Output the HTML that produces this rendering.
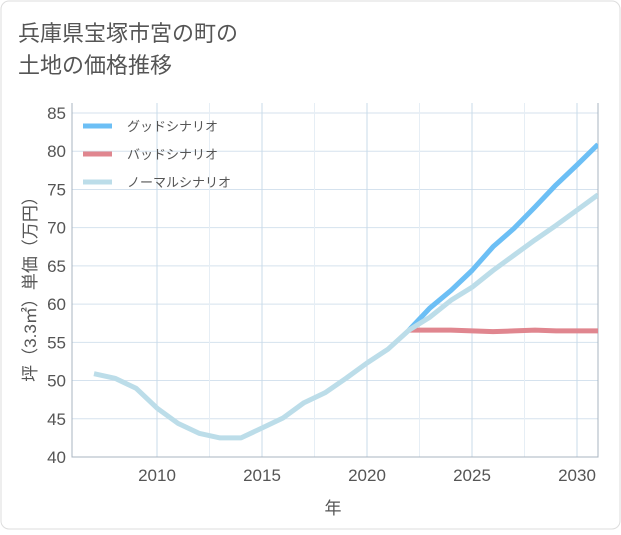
<!DOCTYPE html>
<html><head><meta charset="utf-8"><style>
body{margin:0;background:#fff;}
svg text{font-family:"Liberation Sans","Noto Sans CJK JP",sans-serif;}
</style></head><body>
<svg width="621" height="530" xmlns="http://www.w3.org/2000/svg">
<rect x="1" y="1" width="619" height="528" rx="8" fill="#fff" stroke="#ddd"/>
<text x="18" y="41" font-size="22" fill="#555">兵庫県宝塚市宮の町の</text>
<text x="18" y="73" font-size="22" fill="#555">土地の価格推移</text>
<g id="grid"></g>
<g id="axes"></g>
<g id="series"></g>
<text transform="translate(36,285) rotate(-90)" text-anchor="middle" font-size="17" fill="#555">坪（3.3㎡）単価（万円）</text>
<text x="333" y="514" text-anchor="middle" font-size="17" fill="#555">年</text>
<g>
<line x1="83" y1="126" x2="112" y2="126" stroke="#6cbff5" stroke-width="5"/>
<text x="127" y="131" font-size="13" fill="#555">グッドシナリオ</text>
<line x1="83" y1="154" x2="112" y2="154" stroke="#e0868f" stroke-width="5"/>
<text x="127" y="159" font-size="13" fill="#555">バッドシナリオ</text>
<line x1="83" y1="182" x2="112" y2="182" stroke="#bcdde9" stroke-width="5"/>
<text x="127" y="187" font-size="13" fill="#555">ノーマルシナリオ</text>
</g>
</svg>
<script>
const normalYears=[2007,2008,2009,2010,2011,2012,2013,2014,2015,2016,2017,2018,2019,2020,2021,2022,2023,2024,2025,2026,2027,2028,2029,2030,2031];
const normalValues=[50.9,50.3,49.0,46.4,44.4,43.1,42.5,42.5,43.8,45.1,47.1,48.4,50.3,52.3,54.1,56.6,58.3,60.5,62.2,64.4,66.4,68.4,70.3,72.3,74.3];
const scenarioYears=[2022,2023,2024,2025,2026,2027,2028,2029,2030,2031];
const goodValues=[56.6,59.5,61.8,64.4,67.5,69.9,72.7,75.6,78.2,80.9];
const badValues=[56.6,56.6,56.6,56.5,56.4,56.5,56.6,56.5,56.5,56.5];
const yTicks=[40,45,50,55,60,65,70,75,80,85];
const xTicks=[2010,2015,2020,2025,2030];
const L=72,R=598,T=103,B=457;
const X=y=>157+(y-2010)*21;
const Y=v=>457-(v-40)*7.644;
const NS="http://www.w3.org/2000/svg";
function mk(tag,attrs,parent){const e=document.createElementNS(NS,tag);for(const k in attrs)e.setAttribute(k,attrs[k]);parent.appendChild(e);return e;}
const grid=document.getElementById('grid'),axes=document.getElementById('axes'),series=document.getElementById('series');
yTicks.forEach(t=>{
  const l=mk('line',{x1:L,x2:R,y1:Y(t),y2:Y(t),stroke:'#d5e2ee','stroke-width':1},grid);
  
  
  const tx=mk('text',{x:L-6,y:Y(t)+6,'text-anchor':'end','font-size':17,fill:'#555'},axes);
  tx.textContent=t;
  
  
});
for(let yr=2007;yr<=2031;yr++){
  const major=xTicks.includes(yr);
  if(!major&&yr%5!==2&&yr%5!==7)continue;
}
xTicks.forEach(t=>{
  const l=mk('line',{x1:X(t),x2:X(t),y1:T,y2:B,stroke:'#c8dbea','stroke-width':1},grid);
  
  
  const tx=mk('text',{x:X(t),y:B+24,'text-anchor':'middle','font-size':17,fill:'#555'},axes);
  tx.textContent=t;
  
  
});
[2012.5,2017.5,2022.5,2027.5].forEach(t=>{
  const l=mk('line',{x1:X(t),x2:X(t),y1:T,y2:B,stroke:'#e6eef5','stroke-width':1},grid);
  
  
});
const frame=mk('path',{d:`M${L},${T} V${B} H${R} V${T}`,fill:'none',stroke:'#a8b4c0','stroke-width':1},axes);


function line(xs,vs,color,name){
  const d=xs.map((x,i)=>(i?'L':'M')+X(x).toFixed(1)+','+Y(vs[i]).toFixed(1)).join(' ');
  const p=mk('path',{d:d,fill:'none',stroke:color,'stroke-width':5,'stroke-linejoin':'round'},series);
  
  
}
const clip=mk('clipPath',{id:'pc'},document.querySelector('svg'));
mk('rect',{x:L,y:T,width:R-L,height:B-T},clip);
series.setAttribute('clip-path','url(#pc)');
line(scenarioYears,badValues,'#e0868f','bad-scenario-line');
line(scenarioYears,goodValues,'#6cbff5','good-scenario-line');
line(normalYears,normalValues,'#bcdde9','normal-scenario-line');
</script>
</body></html>
